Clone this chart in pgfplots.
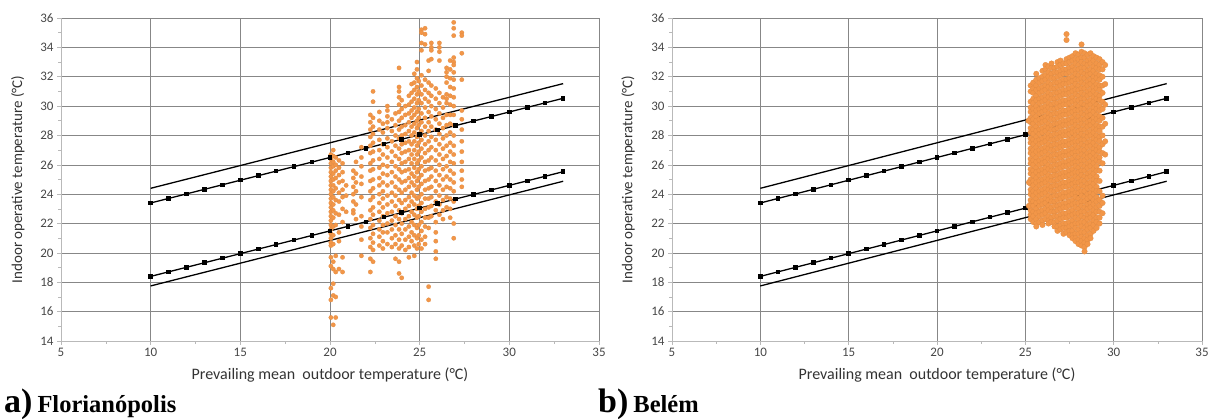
\documentclass[border=0pt]{standalone}
\usepackage{fontspec}
\setmainfont{Carlito}
\newfontfamily\capfont{Liberation Serif}
\usepackage{pgfplots}
\pgfplotsset{compat=1.18}
\definecolor{dots}{RGB}{242,150,72}
\definecolor{gridc}{RGB}{135,135,135}
\definecolor{axc}{RGB}{185,185,185}
\pgfplotsset{
  myaxis/.style={
    scale only axis, height=323pt,
    xmin=5,xmax=35,ymin=14,ymax=36,
    xtick={5,10,...,35}, ytick={14,16,...,36},
    minor x tick num=1, minor y tick num=1,
    axis lines=left, axis line style={axc,-},
    grid=major, major grid style={gridc,line width=0.6pt},
    tick style={axc,line width=0.6pt}, major tick length=4pt, minor tick length=3pt,
    tick align=outside,
    /pgf/number format/assume math mode=true,
    tick label style={font=\fontsize{13}{15}\selectfont, text=black!72},
    xlabel style={font=\fontsize{16}{18}\selectfont, text=black!80, at={(axis description cs:0.5,-0.105)}, anchor=center},
    ylabel style={font=\fontsize{15}{17}\selectfont, text=black!80, anchor=center},
    xlabel={Prevailing mean\ \ outdoor temperature (°C)},
    ylabel={Indoor operative temperature (°C)},
  },
  dotsty/.style={only marks, mark=*, mark size=2.2pt, mark options={fill=dots, draw=dots!92!black, line width=0.2pt}},
  lin/.style={black, line width=1.3pt, no marks},
  linm/.style={black, line width=1.3pt, mark=square*, mark size=1.6pt, mark options={solid,fill=black}},
}
\newcommand{\refLines}{%
\addplot[lin] coordinates {(10,24.4) (33,31.53)};
\addplot[lin] coordinates {(10,17.75) (33,24.88)};
\addplot[linm] coordinates {(10,23.40) (11,23.71) (12,24.02) (13,24.33) (14,24.64) (15,24.95) (16,25.26) (17,25.57) (18,25.88) (19,26.19) (20,26.50) (21,26.81) (22,27.12) (23,27.43) (24,27.74) (25,28.05) (26,28.36) (27,28.67) (28,28.98) (29,29.29) (30,29.60) (31,29.91) (32,30.22) (33,30.53)};
\addplot[linm] coordinates {(10,18.40) (11,18.71) (12,19.02) (13,19.33) (14,19.64) (15,19.95) (16,20.26) (17,20.57) (18,20.88) (19,21.19) (20,21.50) (21,21.81) (22,22.12) (23,22.43) (24,22.74) (25,23.05) (26,23.36) (27,23.67) (28,23.98) (29,24.29) (30,24.60) (31,24.91) (32,25.22) (33,25.53)};
}
\begin{document}
\begin{tikzpicture}
\useasboundingbox (0,0) rectangle (1212pt,419pt);
\begin{axis}[myaxis, at={(61pt,78pt)}, anchor=south west, width=538pt, ylabel style={at={(axis description cs:-0.08,0.5)}}]
\addplot[dotsty] coordinates {
(20.05,26.7) (20.05,26.4) (20.05,26.1) (20.05,25.8) (20.05,25.5) (20.05,25.2) (20.05,24.9) (20.05,24.6) (20.05,24.3) (20.05,24.0) (20.05,23.7) (20.05,23.4) (20.05,23.1) (20.05,22.8) (20.05,22.5) (20.05,22.2) (20.05,21.9) (20.05,21.6) (20.05,21.3) (20.05,21.0) (20.05,20.7) (20.05,20.5) (20.05,19.7) (20.05,19.1) (20.05,17.6) (20.05,16.8) (20.05,15.6)
(20.18,27.0) (20.18,26.6) (20.18,26.2) (20.18,25.9) (20.18,25.4) (20.18,25.0) (20.18,24.6) (20.18,24.2) (20.18,23.8) (20.18,23.3) (20.18,22.9) (20.18,22.4) (20.18,21.8) (20.18,21.2) (20.18,20.6) (20.18,19.4) (20.18,18.9) (20.18,17.9) (20.18,17.1) (20.18,15.1)
(20.32,26.5) (20.32,26.0) (20.32,25.6) (20.32,25.1) (20.32,24.4) (20.32,23.6) (20.32,22.7) (20.32,21.9) (20.32,19.8) (20.32,18.7) (20.32,17.0) (20.32,15.6)
(20.50,26.3) (20.50,25.8) (20.50,25.3) (20.50,24.8) (20.50,24.1) (20.50,23.5) (20.50,22.6) (20.50,21.4) (20.50,20.8) (20.50,18.9)
(20.70,26.1) (20.70,25.5) (20.70,24.9) (20.70,24.3) (20.70,23.8) (20.70,23.0) (20.70,22.1) (20.70,19.7) (20.70,18.7)
(20.90,24.6) (20.90,23.9) (20.90,22.8)
(21.30,25.6) (21.30,25.1) (21.30,24.5) (21.30,24.0) (21.30,23.5) (21.30,22.9) (21.30,22.7)
(21.45,26.2) (21.45,25.4) (21.45,24.8) (21.45,24.2) (21.45,23.3) (21.45,22.3)
(21.75,27.2) (21.75,26.5) (21.75,25.9) (21.75,25.2) (21.75,24.7) (21.75,23.8) (21.75,22.5) (21.75,21.8) (21.75,20.9) (21.75,19.8)
(22.25,29.4) (22.25,28.9) (22.25,28.4) (22.25,27.9) (22.25,27.3) (22.25,26.8) (22.25,26.1) (22.25,25.6) (22.25,24.9) (22.25,24.2) (22.25,23.6) (22.25,22.9) (22.25,22.3) (22.25,21.7) (22.25,21.0) (22.25,20.4) (22.25,19.6) (22.25,18.7)
(22.40,31.0) (22.40,30.3) (22.40,29.2) (22.40,28.6) (22.40,28.1) (22.40,27.5) (22.40,26.9) (22.40,26.3) (22.40,25.7) (22.40,25.0) (22.40,24.4) (22.40,23.8) (22.40,23.1) (22.40,22.6) (22.40,21.9) (22.40,21.3) (22.40,20.7) (22.40,20.2) (22.40,19.4)
(22.75,29.6) (22.75,29.0) (22.75,28.4) (22.75,27.7) (22.75,27.0) (22.75,26.4) (22.75,25.8) (22.75,25.1) (22.75,24.6) (22.75,24.0) (22.75,23.4) (22.75,22.8) (22.75,22.2) (22.75,21.6) (22.75,21.1) (22.75,20.5)
(22.95,28.8) (22.95,28.2) (22.95,27.4) (22.95,26.7) (22.95,26.0) (22.95,25.4) (22.95,24.8) (22.95,24.2) (22.95,23.7) (22.95,23.1) (22.95,22.5) (22.95,21.9) (22.95,21.4) (22.95,20.8) (22.95,20.3)
(23.20,30.0) (23.20,29.7) (23.20,29.3) (23.20,28.9) (23.20,28.5) (23.20,27.8) (23.20,27.2) (23.20,26.5) (23.20,25.9) (23.20,25.3) (23.20,24.6) (23.20,23.9) (23.20,23.3) (23.20,22.7) (23.20,22.0) (23.20,21.4) (23.20,20.6)
(23.45,29.1) (23.45,28.3) (23.45,27.6) (23.45,26.9) (23.45,26.2) (23.45,25.5) (23.45,24.8) (23.45,24.1) (23.45,23.5) (23.45,22.8) (23.45,22.2) (23.45,21.6) (23.45,21.0) (23.45,20.4)
(23.65,29.5) (23.65,28.7) (23.65,28.0) (23.65,27.3) (23.65,26.6) (23.65,25.9) (23.65,25.2) (23.65,24.5) (23.65,23.9) (23.65,23.2) (23.65,22.5) (23.65,21.9) (23.65,21.2) (23.65,20.6) (23.65,19.6)
(23.85,32.6) (23.85,31.3) (23.85,31.0) (23.85,30.6) (23.85,30.1) (23.85,29.6) (23.85,29.0) (23.85,28.4) (23.85,27.8) (23.85,27.1) (23.85,26.4) (23.85,25.7) (23.85,25.0) (23.85,24.3) (23.85,23.6) (23.85,22.9) (23.85,22.3) (23.85,21.6) (23.85,20.9) (23.85,20.3) (23.85,19.4) (23.85,18.6)
(24.00,30.4) (24.00,29.8) (24.00,29.2) (24.00,28.6) (24.00,28.0) (24.00,27.4) (24.00,26.8) (24.00,26.1) (24.00,25.5) (24.00,24.8) (24.00,24.1) (24.00,23.4) (24.00,22.7) (24.00,22.0) (24.00,21.3) (24.00,20.5) (24.00,18.3)
(24.20,30.0) (24.20,29.4) (24.20,28.7) (24.20,28.1) (24.20,27.5) (24.20,26.9) (24.20,26.2) (24.20,25.6) (24.20,24.9) (24.20,24.3) (24.20,23.6) (24.20,23.0) (24.20,22.3) (24.20,21.6) (24.20,20.9) (24.20,20.2)
(24.40,30.7) (24.40,30.1) (24.40,29.5) (24.40,28.9) (24.40,28.3) (24.40,27.6) (24.40,27.0) (24.40,26.4) (24.40,25.7) (24.40,25.1) (24.40,24.5) (24.40,23.8) (24.40,23.2) (24.40,22.5) (24.40,21.8) (24.40,21.1) (24.40,20.4) (24.40,19.7)
(24.55,31.5) (24.55,30.9) (24.55,30.3) (24.55,29.7) (24.55,29.2) (24.55,28.6) (24.55,28.0) (24.55,27.4) (24.55,26.7) (24.55,26.1) (24.55,25.4) (24.55,24.8) (24.55,24.1) (24.55,23.5) (24.55,22.8) (24.55,22.1) (24.55,21.4) (24.55,20.8)
(24.70,32.2) (24.70,31.6) (24.70,31.1) (24.70,30.5) (24.70,29.9) (24.70,29.4) (24.70,28.8) (24.70,28.2) (24.70,27.6) (24.70,27.0) (24.70,26.4) (24.70,25.8) (24.70,25.2) (24.70,24.6) (24.70,23.9) (24.70,23.3) (24.70,22.6) (24.70,21.9) (24.70,21.2) (24.70,20.5) (24.70,19.8)
(24.85,33.0) (24.85,32.5) (24.85,31.9) (24.85,31.3) (24.85,30.8) (24.85,30.2) (24.85,29.6) (24.85,29.0) (24.85,28.5) (24.85,27.9) (24.85,27.3) (24.85,26.7) (24.85,26.1) (24.85,25.5) (24.85,24.9) (24.85,24.3) (24.85,23.7) (24.85,23.0) (24.85,22.4) (24.85,21.7) (24.85,21.0) (24.85,20.3)
(24.95,31.7) (24.95,31.0) (24.95,30.4) (24.95,29.8) (24.95,29.2) (24.95,28.7) (24.95,28.1) (24.95,27.5) (24.95,26.9) (24.95,26.3) (24.95,25.7) (24.95,25.1) (24.95,24.5) (24.95,23.8) (24.95,23.2) (24.95,22.5) (24.95,21.9) (24.95,21.2) (24.95,20.6)
(25.10,35.2) (25.10,35.0) (25.10,34.3) (25.10,33.8) (25.10,32.1) (25.10,31.4) (25.10,30.8) (25.10,30.2) (25.10,29.5) (25.10,28.9) (25.10,28.3) (25.10,27.7) (25.10,27.1) (25.10,26.5) (25.10,25.9) (25.10,25.3) (25.10,24.7) (25.10,24.0) (25.10,23.4) (25.10,22.8) (25.10,22.1) (25.10,21.5) (25.10,20.9) (25.10,20.3)
(25.30,35.3) (25.30,34.9) (25.30,34.2) (25.30,31.8) (25.30,31.1) (25.30,30.5) (25.30,29.9) (25.30,29.2) (25.30,28.6) (25.30,28.0) (25.30,27.4) (25.30,26.8) (25.30,26.2) (25.30,25.6) (25.30,24.9) (25.30,24.3) (25.30,23.7) (25.30,23.0) (25.30,22.4) (25.30,21.8) (25.30,21.1) (25.30,20.6)
(25.50,33.1) (25.50,32.4) (25.50,31.6) (25.50,30.9) (25.50,30.3) (25.50,29.6) (25.50,28.9) (25.50,28.3) (25.50,27.6) (25.50,27.0) (25.50,26.3) (25.50,25.7) (25.50,25.0) (25.50,24.4) (25.50,23.7) (25.50,23.1) (25.50,22.4) (25.50,21.7) (25.50,17.7) (25.50,16.8)
(25.65,34.3) (25.65,34.0) (25.65,33.8) (25.65,33.2) (25.65,31.4) (25.65,30.7) (25.65,30.0) (25.65,29.3) (25.65,28.6) (25.65,27.9) (25.65,27.2) (25.65,26.5) (25.65,25.8) (25.65,25.2) (25.65,24.5) (25.65,23.8) (25.65,23.2) (25.65,22.5)
(25.90,31.2) (25.90,30.5) (25.90,29.8) (25.90,29.1) (25.90,28.4) (25.90,27.7) (25.90,27.0) (25.90,26.3) (25.90,25.6) (25.90,24.9) (25.90,24.2) (25.90,23.5) (25.90,22.9) (25.90,22.1) (25.90,21.4) (25.90,20.8) (25.90,20.1) (25.90,19.6)
(26.10,34.3) (26.10,34.0) (26.10,33.7) (26.10,33.1) (26.10,30.9) (26.10,30.2) (26.10,29.5) (26.10,28.8) (26.10,28.1) (26.10,27.4) (26.10,26.7) (26.10,26.0) (26.10,25.3) (26.10,24.6) (26.10,23.9) (26.10,23.3) (26.10,22.6)
(26.30,30.6) (26.30,29.9) (26.30,29.2) (26.30,28.5) (26.30,27.8) (26.30,27.1) (26.30,26.4) (26.30,25.7) (26.30,25.0) (26.30,24.3) (26.30,23.6) (26.30,22.9) (26.30,22.3)
(26.50,32.6) (26.50,32.3) (26.50,32.0) (26.50,31.6) (26.50,30.8) (26.50,30.5) (26.50,30.2) (26.50,29.4) (26.50,28.7) (26.50,28.0) (26.50,27.3) (26.50,26.6) (26.50,25.9) (26.50,25.2) (26.50,24.5) (26.50,23.8) (26.50,23.1)
(26.70,33.1) (26.70,32.5) (26.70,31.9) (26.70,31.3) (26.70,30.7) (26.70,30.1) (26.70,29.4) (26.70,28.8) (26.70,28.2) (26.70,27.5) (26.70,26.9) (26.70,26.2) (26.70,25.6) (26.70,25.0) (26.70,24.4) (26.70,23.7) (26.70,23.0) (26.70,22.4)
(26.90,35.7) (26.90,35.3) (26.90,34.8) (26.90,33.3) (26.90,33.0) (26.90,32.8) (26.90,32.3) (26.90,31.8) (26.90,31.2) (26.90,30.6) (26.90,30.0) (26.90,29.4) (26.90,28.7) (26.90,28.0) (26.90,27.3) (26.90,26.7) (26.90,26.1) (26.90,25.4) (26.90,24.8) (26.90,24.2) (26.90,23.5) (26.90,22.0) (26.90,21.0)
(27.35,35.0) (27.35,34.8) (27.35,33.6) (27.35,31.8) (27.35,29.7) (27.35,29.1) (27.35,28.4) (27.35,27.6) (27.35,26.9) (27.35,26.2) (27.35,25.6) (27.35,25.0) (27.35,24.5)
};
\refLines
\end{axis}
\begin{axis}[myaxis, at={(672pt,78pt)}, anchor=south west, width=530pt, ylabel style={at={(axis description cs:-0.083,0.5)}}]
\refLines
\addplot[dotsty, mark size=2.8pt] coordinates {
(25.30,31.4) (25.30,31.0) (25.30,30.3) (25.30,29.9) (25.30,29.6) (25.30,29.2) (25.30,28.9) (25.30,28.5) (25.30,28.2) (25.30,27.8) (25.30,27.5) (25.30,27.1) (25.30,26.8) (25.30,26.4) (25.30,26.1) (25.30,25.7) (25.30,25.4) (25.30,25.0) (25.30,24.7) (25.30,24.3) (25.30,24.0) (25.30,23.6) (25.30,23.3) (25.30,22.9) (25.30,22.6) (25.30,22.3)
(25.18,29.0) (25.20,24.8) (25.20,23.2)
(25.45,31.6) (25.45,31.2) (25.45,30.9) (25.45,30.5) (25.45,30.2) (25.45,29.8) (25.45,29.5) (25.45,29.1) (25.45,28.8) (25.45,28.4) (25.45,28.1) (25.45,27.7) (25.45,27.4) (25.45,27.0) (25.45,26.7) (25.45,26.3) (25.45,26.0) (25.45,25.6) (25.45,25.3) (25.45,24.9) (25.45,24.6) (25.45,24.2) (25.45,23.9) (25.45,23.5) (25.45,23.2) (25.45,22.8) (25.45,22.5) (25.45,22.1)
(25.62,32.2) (25.62,31.8) (25.62,31.4) (25.62,31.1) (25.62,30.7) (25.62,30.4) (25.62,30.0) (25.62,29.7) (25.62,29.3) (25.62,29.0) (25.62,28.6) (25.62,28.3) (25.62,27.9) (25.62,27.6) (25.62,27.2) (25.62,26.9) (25.62,26.5) (25.62,26.2) (25.62,25.8) (25.62,25.5) (25.62,25.1) (25.62,24.8) (25.62,24.4) (25.62,24.1) (25.62,23.7) (25.62,23.4) (25.62,23.0) (25.62,22.7) (25.62,22.3) (25.62,22.0) (25.62,21.8)
(25.80,31.9) (25.80,31.6) (25.80,31.2) (25.80,30.9) (25.80,30.5) (25.80,30.2) (25.80,29.8) (25.80,29.5) (25.80,29.1) (25.80,28.8) (25.80,28.4) (25.80,28.1) (25.80,27.7) (25.80,27.4) (25.80,27.0) (25.80,26.7) (25.80,26.3) (25.80,26.0) (25.80,25.6) (25.80,25.3) (25.80,24.9) (25.80,24.6) (25.80,24.2) (25.80,23.9) (25.80,23.5) (25.80,23.2) (25.80,22.8) (25.80,22.5) (25.80,22.1)
(25.97,32.4) (25.97,32.0) (25.97,31.7) (25.97,31.3) (25.97,31.0) (25.97,30.6) (25.97,30.3) (25.97,29.9) (25.97,29.6) (25.97,29.2) (25.97,28.9) (25.97,28.5) (25.97,28.2) (25.97,27.8) (25.97,27.5) (25.97,27.1) (25.97,26.8) (25.97,26.4) (25.97,26.1) (25.97,25.7) (25.97,25.4) (25.97,25.0) (25.97,24.7) (25.97,24.3) (25.97,24.0) (25.97,23.6) (25.97,23.3) (25.97,22.9) (25.97,22.6) (25.97,22.2) (25.97,21.9)
(26.14,32.8) (26.14,32.5) (26.14,32.1) (26.14,31.8) (26.14,31.4) (26.14,31.1) (26.14,30.7) (26.14,30.4) (26.14,30.0) (26.14,29.7) (26.14,29.3) (26.14,29.0) (26.14,28.6) (26.14,28.3) (26.14,27.9) (26.14,27.6) (26.14,27.2) (26.14,26.9) (26.14,26.5) (26.14,26.2) (26.14,25.8) (26.14,25.5) (26.14,25.1) (26.14,24.8) (26.14,24.4) (26.14,24.1) (26.14,23.7) (26.14,23.4) (26.14,23.0) (26.14,22.7) (26.14,22.3)
(26.31,32.7) (26.31,32.3) (26.31,32.0) (26.31,31.6) (26.31,31.3) (26.31,30.9) (26.31,30.6) (26.31,30.2) (26.31,29.9) (26.31,29.5) (26.31,29.2) (26.31,28.8) (26.31,28.5) (26.31,28.1) (26.31,27.8) (26.31,27.4) (26.31,27.1) (26.31,26.7) (26.31,26.4) (26.31,26.0) (26.31,25.7) (26.31,25.3) (26.31,25.0) (26.31,24.6) (26.31,24.3) (26.31,23.9) (26.31,23.6) (26.31,23.2) (26.31,22.9) (26.31,22.5) (26.31,22.2) (26.31,22.0)
(26.48,32.9) (26.48,32.6) (26.48,32.2) (26.48,31.9) (26.48,31.5) (26.48,31.2) (26.48,30.8) (26.48,30.5) (26.48,30.1) (26.48,29.8) (26.48,29.4) (26.48,29.1) (26.48,28.7) (26.48,28.4) (26.48,28.0) (26.48,27.7) (26.48,27.3) (26.48,27.0) (26.48,26.6) (26.48,26.3) (26.48,25.9) (26.48,25.6) (26.48,25.2) (26.48,24.9) (26.48,24.5) (26.48,24.2) (26.48,23.8) (26.48,23.5) (26.48,23.1) (26.48,22.8) (26.48,22.4) (26.48,22.1)
(26.65,32.6) (26.65,32.3) (26.65,31.9) (26.65,31.6) (26.65,31.2) (26.65,30.9) (26.65,30.5) (26.65,30.2) (26.65,29.8) (26.65,29.5) (26.65,29.1) (26.65,28.8) (26.65,28.4) (26.65,28.1) (26.65,27.7) (26.65,27.4) (26.65,27.0) (26.65,26.7) (26.65,26.3) (26.65,26.0) (26.65,25.6) (26.65,25.3) (26.65,24.9) (26.65,24.6) (26.65,24.2) (26.65,23.9) (26.65,23.5) (26.65,23.2) (26.65,22.8) (26.65,22.5) (26.65,22.1) (26.65,21.8)
(26.82,33.0) (26.82,32.7) (26.82,32.3) (26.82,32.0) (26.82,31.6) (26.82,31.3) (26.82,30.9) (26.82,30.6) (26.82,30.2) (26.82,29.9) (26.82,29.5) (26.82,29.2) (26.82,28.8) (26.82,28.5) (26.82,28.1) (26.82,27.8) (26.82,27.4) (26.82,27.1) (26.82,26.7) (26.82,26.4) (26.82,26.0) (26.82,25.7) (26.82,25.3) (26.82,25.0) (26.82,24.6) (26.82,24.3) (26.82,23.9) (26.82,23.6) (26.82,23.2) (26.82,22.9) (26.82,22.5) (26.82,22.2) (26.82,21.8) (26.82,21.5)
(26.99,33.1) (26.99,32.8) (26.99,32.4) (26.99,32.1) (26.99,31.7) (26.99,31.4) (26.99,31.0) (26.99,30.7) (26.99,30.3) (26.99,30.0) (26.99,29.6) (26.99,29.3) (26.99,28.9) (26.99,28.6) (26.99,28.2) (26.99,27.9) (26.99,27.5) (26.99,27.2) (26.99,26.8) (26.99,26.5) (26.99,26.1) (26.99,25.8) (26.99,25.4) (26.99,25.1) (26.99,24.7) (26.99,24.4) (26.99,24.0) (26.99,23.7) (26.99,23.3) (26.99,23.0) (26.99,22.6) (26.99,22.3) (26.99,21.9) (26.99,21.6)
(27.16,32.9) (27.16,32.5) (27.16,32.2) (27.16,31.8) (27.16,31.5) (27.16,31.1) (27.16,30.8) (27.16,30.4) (27.16,30.1) (27.16,29.7) (27.16,29.4) (27.16,29.0) (27.16,28.7) (27.16,28.3) (27.16,28.0) (27.16,27.6) (27.16,27.3) (27.16,26.9) (27.16,26.6) (27.16,26.2) (27.16,25.9) (27.16,25.5) (27.16,25.2) (27.16,24.8) (27.16,24.5) (27.16,24.1) (27.16,23.8) (27.16,23.4) (27.16,23.1) (27.16,22.7) (27.16,22.4) (27.16,22.0) (27.16,21.7) (27.16,21.3)
(27.33,34.9) (27.33,34.5) (27.33,33.2) (27.33,32.9) (27.33,32.5) (27.33,32.2) (27.33,31.8) (27.33,31.5) (27.33,31.1) (27.33,30.8) (27.33,30.4) (27.33,30.1) (27.33,29.7) (27.33,29.4) (27.33,29.0) (27.33,28.7) (27.33,28.3) (27.33,28.0) (27.33,27.6) (27.33,27.3) (27.33,26.9) (27.33,26.6) (27.33,26.2) (27.33,25.9) (27.33,25.5) (27.33,25.2) (27.33,24.8) (27.33,24.5) (27.33,24.1) (27.33,23.8) (27.33,23.4) (27.33,23.1) (27.33,22.7) (27.33,22.4) (27.33,22.0) (27.33,21.7) (27.33,21.4)
(27.50,33.3) (27.50,33.0) (27.50,32.6) (27.50,32.3) (27.50,31.9) (27.50,31.6) (27.50,31.2) (27.50,30.9) (27.50,30.5) (27.50,30.2) (27.50,29.8) (27.50,29.5) (27.50,29.1) (27.50,28.8) (27.50,28.4) (27.50,28.1) (27.50,27.7) (27.50,27.4) (27.50,27.0) (27.50,26.7) (27.50,26.3) (27.50,26.0) (27.50,25.6) (27.50,25.3) (27.50,24.9) (27.50,24.6) (27.50,24.2) (27.50,23.9) (27.50,23.5) (27.50,23.2) (27.50,22.8) (27.50,22.5) (27.50,22.1) (27.50,21.8) (27.50,21.5) (27.50,21.2)
(27.67,33.4) (27.67,33.1) (27.67,32.7) (27.67,32.4) (27.67,32.0) (27.67,31.7) (27.67,31.3) (27.67,31.0) (27.67,30.6) (27.67,30.3) (27.67,29.9) (27.67,29.6) (27.67,29.2) (27.67,28.9) (27.67,28.5) (27.67,28.2) (27.67,27.8) (27.67,27.5) (27.67,27.1) (27.67,26.8) (27.67,26.4) (27.67,26.1) (27.67,25.7) (27.67,25.4) (27.67,25.0) (27.67,24.7) (27.67,24.3) (27.67,24.0) (27.67,23.6) (27.67,23.3) (27.67,22.9) (27.67,22.6) (27.67,22.2) (27.67,21.9) (27.67,21.5) (27.67,21.2) (27.67,21.0)
(27.84,33.6) (27.84,33.2) (27.84,32.9) (27.84,32.5) (27.84,32.2) (27.84,31.8) (27.84,31.5) (27.84,31.1) (27.84,30.8) (27.84,30.4) (27.84,30.1) (27.84,29.7) (27.84,29.4) (27.84,29.0) (27.84,28.7) (27.84,28.3) (27.84,28.0) (27.84,27.6) (27.84,27.3) (27.84,26.9) (27.84,26.6) (27.84,26.2) (27.84,25.9) (27.84,25.5) (27.84,25.2) (27.84,24.8) (27.84,24.5) (27.84,24.1) (27.84,23.8) (27.84,23.4) (27.84,23.1) (27.84,22.7) (27.84,22.4) (27.84,22.0) (27.84,21.7) (27.84,21.3) (27.84,21.0) (27.84,20.8)
(28.01,33.5) (28.01,33.2) (28.01,32.8) (28.01,32.5) (28.01,32.1) (28.01,31.8) (28.01,31.4) (28.01,31.1) (28.01,30.7) (28.01,30.4) (28.01,30.0) (28.01,29.7) (28.01,29.3) (28.01,29.0) (28.01,28.6) (28.01,28.3) (28.01,27.9) (28.01,27.6) (28.01,27.2) (28.01,26.9) (28.01,26.5) (28.01,26.2) (28.01,25.8) (28.01,25.5) (28.01,25.1) (28.01,24.8) (28.01,24.4) (28.01,24.1) (28.01,23.7) (28.01,23.4) (28.01,23.0) (28.01,22.7) (28.01,22.3) (28.01,22.0) (28.01,21.6) (28.01,21.3) (28.01,20.9) (28.01,20.6)
(28.18,34.2) (28.18,33.7) (28.18,33.3) (28.18,33.0) (28.18,32.6) (28.18,32.3) (28.18,31.9) (28.18,31.6) (28.18,31.2) (28.18,30.9) (28.18,30.5) (28.18,30.2) (28.18,29.8) (28.18,29.5) (28.18,29.1) (28.18,28.8) (28.18,28.4) (28.18,28.1) (28.18,27.7) (28.18,27.4) (28.18,27.0) (28.18,26.7) (28.18,26.3) (28.18,26.0) (28.18,25.6) (28.18,25.3) (28.18,24.9) (28.18,24.6) (28.18,24.2) (28.18,23.9) (28.18,23.5) (28.18,23.2) (28.18,22.8) (28.18,22.5) (28.18,22.1) (28.18,21.8) (28.18,21.4) (28.18,21.1) (28.18,20.8) (28.18,20.5)
(28.35,33.6) (28.35,33.3) (28.35,32.9) (28.35,32.6) (28.35,32.2) (28.35,31.9) (28.35,31.5) (28.35,31.2) (28.35,30.8) (28.35,30.5) (28.35,30.1) (28.35,29.8) (28.35,29.4) (28.35,29.1) (28.35,28.7) (28.35,28.4) (28.35,28.0) (28.35,27.7) (28.35,27.3) (28.35,27.0) (28.35,26.6) (28.35,26.3) (28.35,25.9) (28.35,25.6) (28.35,25.2) (28.35,24.9) (28.35,24.5) (28.35,24.2) (28.35,23.8) (28.35,23.5) (28.35,23.1) (28.35,22.8) (28.35,22.4) (28.35,22.1) (28.35,21.7) (28.35,21.4) (28.35,21.0) (28.35,20.7) (28.35,20.4) (28.35,20.1)
(28.52,33.5) (28.52,33.1) (28.52,32.8) (28.52,32.4) (28.52,32.1) (28.52,31.7) (28.52,31.4) (28.52,31.0) (28.52,30.7) (28.52,30.3) (28.52,30.0) (28.52,29.6) (28.52,29.3) (28.52,28.9) (28.52,28.6) (28.52,28.2) (28.52,27.9) (28.52,27.5) (28.52,27.2) (28.52,26.8) (28.52,26.5) (28.52,26.1) (28.52,25.8) (28.52,25.4) (28.52,25.1) (28.52,24.7) (28.52,24.4) (28.52,24.0) (28.52,23.7) (28.52,23.3) (28.52,23.0) (28.52,22.6) (28.52,22.3) (28.52,21.9) (28.52,21.6) (28.52,21.2) (28.52,20.9) (28.52,20.6)
(28.69,33.6) (28.69,33.2) (28.69,32.9) (28.69,32.5) (28.69,32.2) (28.69,31.8) (28.69,31.5) (28.69,31.1) (28.69,30.8) (28.69,30.4) (28.69,30.1) (28.69,29.7) (28.69,29.4) (28.69,29.0) (28.69,28.7) (28.69,28.3) (28.69,28.0) (28.69,27.6) (28.69,27.3) (28.69,26.9) (28.69,26.6) (28.69,26.2) (28.69,25.9) (28.69,25.5) (28.69,25.2) (28.69,24.8) (28.69,24.5) (28.69,24.1) (28.69,23.8) (28.69,23.4) (28.69,23.1) (28.69,22.7) (28.69,22.4) (28.69,22.0) (28.69,21.7) (28.69,21.3) (28.69,21.0)
(28.86,33.4) (28.86,33.1) (28.86,32.7) (28.86,32.4) (28.86,32.0) (28.86,31.7) (28.86,31.3) (28.86,31.0) (28.86,30.6) (28.86,30.3) (28.86,29.9) (28.86,29.6) (28.86,29.2) (28.86,28.9) (28.86,28.5) (28.86,28.2) (28.86,27.8) (28.86,27.5) (28.86,27.1) (28.86,26.8) (28.86,26.4) (28.86,26.1) (28.86,25.7) (28.86,25.4) (28.86,25.0) (28.86,24.7) (28.86,24.3) (28.86,24.0) (28.86,23.6) (28.86,23.3) (28.86,22.9) (28.86,22.6) (28.86,22.2) (28.86,21.9) (28.86,21.5)
(29.03,33.3) (29.03,32.9) (29.03,32.6) (29.03,32.2) (29.03,31.9) (29.03,31.5) (29.03,31.2) (29.03,30.8) (29.03,30.5) (29.03,30.1) (29.03,29.8) (29.03,29.4) (29.03,29.1) (29.03,28.7) (29.03,28.4) (29.03,28.0) (29.03,27.7) (29.03,27.3) (29.03,27.0) (29.03,26.6) (29.03,26.3) (29.03,25.9) (29.03,25.6) (29.03,25.2) (29.03,24.9) (29.03,24.5) (29.03,24.2) (29.03,23.8) (29.03,23.5) (29.03,23.1) (29.03,22.8) (29.03,22.4) (29.03,22.1) (29.03,21.7)
(29.20,33.2) (29.20,32.8) (29.20,32.5) (29.20,32.1) (29.20,31.8) (29.20,31.4) (29.20,31.1) (29.20,30.7) (29.20,30.4) (29.20,30.0) (29.20,29.7) (29.20,29.3) (29.20,29.0) (29.20,28.6) (29.20,28.3) (29.20,27.9) (29.20,27.6) (29.20,27.2) (29.20,26.9) (29.20,26.5) (29.20,26.2) (29.20,25.6) (29.20,24.9) (29.20,24.2) (29.20,23.6) (29.20,23.2) (29.20,22.8) (29.20,22.4) (29.20,22.0)
(29.37,33.0) (29.37,32.5) (29.37,32.0) (29.37,31.4) (29.37,30.9) (29.37,30.3) (29.37,29.8) (29.37,29.2) (29.37,28.6) (29.37,28.0) (29.37,27.4) (29.37,26.8) (29.37,26.1) (29.37,23.9) (29.37,23.4) (29.37,22.7)
(29.52,32.8) (29.52,31.5) (29.52,30.1) (29.52,28.8) (29.52,27.6) (29.52,26.7)
};
\end{axis}
\node[anchor=base west, inner sep=0pt] at (4pt,6pt) {\capfont\bfseries{\fontsize{34}{34}\selectfont a)}\hspace{5pt}{\fontsize{24.5}{25}\selectfont Florianópolis}};
\node[anchor=base west, inner sep=0pt] at (598pt,6pt) {\capfont\bfseries{\fontsize{34}{34}\selectfont b)}\hspace{5pt}{\fontsize{24.5}{25}\selectfont Belém}};
\end{tikzpicture}
\end{document}
